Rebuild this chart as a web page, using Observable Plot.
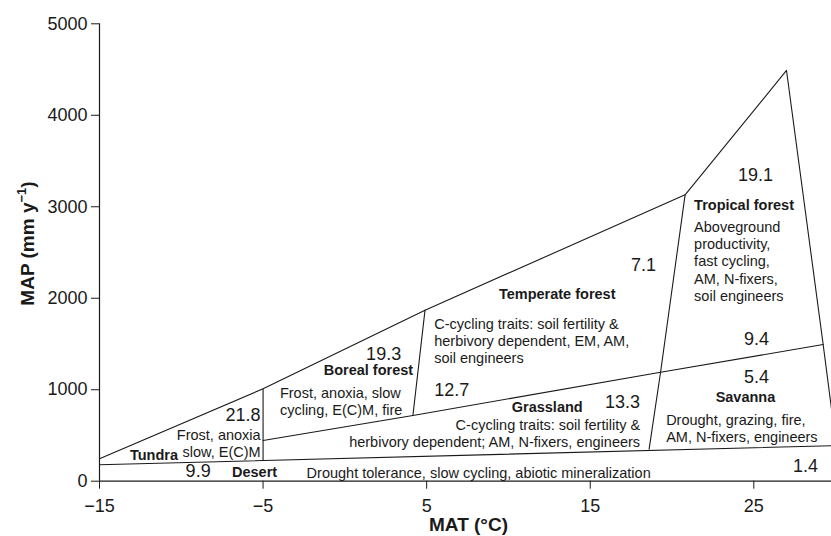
<!DOCTYPE html>
<html><head><meta charset="utf-8">
<script src="https://cdn.jsdelivr.net/npm/d3@7"></script>
<script src="https://cdn.jsdelivr.net/npm/@observablehq/plot@0.6"></script>
<style>body{margin:0;background:#fff;}</style>
</head><body><div id="chart"></div>
<script>
// Axis ticks
const xTicks = [-15, -5, 5, 15, 25];
const yTicks = [0, 1000, 2000, 3000, 4000, 5000];

// Biome boundary lines (MAT °C, MAP mm/yr)
const outerBoundary = [[-15, 245], [-5, 1010], [4.9, 1870], [20.8, 3130], [27.0, 4490], [29.24, 1494], [30.05, 379]];
const desertTop = [[-15, 179], [29.9, 389]];
const tundraBorealLine = [[-5, 226], [-5, 1010]];
const middleLine = [[-5, 445], [4.16, 718], [19.3, 1191], [29.24, 1494]];
const borealTemperateLine = [[4.16, 718], [4.9, 1870]];
const temperateTropicalLine = [[20.8, 3130], [19.3, 1191], [18.6, 350]];

// Biome values
const biomeValues = [
  {label: "19.1", x: 25.1, y: 3340, anchor: "middle"},
  {label: "7.1", x: 18.26, y: 2358, anchor: "middle"},
  {label: "12.7", x: 5.46, y: 999, anchor: "start"},
  {label: "9.4", x: 25.17, y: 1556, anchor: "middle"},
  {label: "5.4", x: 25.17, y: 1137, anchor: "middle"},
  {label: "1.4", x: 28.16, y: 164, anchor: "middle"},
  {label: "13.3", x: 16.98, y: 863, anchor: "middle"},
  {label: "9.9", x: -8.97, y: 109, anchor: "middle"},
  {label: "21.8", x: -5.15, y: 718, anchor: "end"},
  {label: "19.3", x: 2.37, y: 1392, anchor: "middle"}
];

// Biome names
const biomeNames = [
  {label: "Tropical forest", x: 21.35, y: 3020, anchor: "start"},
  {label: "Temperate forest", x: 12.98, y: 2041, anchor: "middle"},
  {label: "Savanna", x: 24.49, y: 918, anchor: "middle"},
  {label: "Grassland", x: 12.37, y: 809, anchor: "middle"},
  {label: "Desert", x: -5.52, y: 98, anchor: "middle"},
  {label: "Tundra", x: -11.67, y: 281, anchor: "middle"},
  {label: "Boreal forest", x: 1.44, y: 1210, anchor: "middle"}
];

// Biome traits
const biomeTraits = [
  {label: "Aboveground\nproductivity,\nfast cycling,\nAM, N-fixers,\nsoil engineers", x: 21.35, y: 2408, anchor: "start"},
  {label: "C-cycling traits: soil fertility &\nherbivory dependent, EM, AM,\nsoil engineers", x: 5.46, y: 1539, anchor: "start"},
  {label: "Drought, grazing, fire,\nAM, N-fixers, engineers", x: 19.64, y: 581, anchor: "start"},
  {label: "C-cycling traits: soil fertility &\nherbivory dependent; AM, N-fixers, engineers", x: 18.05, y: 530, anchor: "end"},
  {label: "Drought tolerance, slow cycling, abiotic mineralization", x: -2.34, y: 98, anchor: "start"},
  {label: "Frost, anoxia\nslow, E(C)M", x: -5.15, y: 421, anchor: "end"},
  {label: "Frost, anoxia, slow\ncycling, E(C)M, fire", x: -3.97, y: 877, anchor: "start"}
];

const xTitle = "MAT (°C)";
const yTitle = "MAP (mm y-1)";

const ink = "#1a1a1a";
const lineOpts = {x: d => d[0], y: d => d[1], stroke: ink, strokeWidth: 1.1, clip: true};

function textGroup(data, anchor, extra) {
  return Plot.text(data.filter(d => d.anchor === anchor), Object.assign({
    x: "x", y: "y", text: "label", textAnchor: anchor, lineAnchor: "middle", fill: ink
  }, extra));
}

const marks = [
  Plot.axisX({ticks: xTicks, tickSize: 8, tickPadding: 10, label: null,
    tickFormat: d => d < 0 ? "\u2212" + Math.abs(d) : String(d)}),
  Plot.axisY({ticks: yTicks, tickSize: 8, tickPadding: 4, label: null, tickFormat: d => String(d)}),
  Plot.ruleX([-15], {y1: 0, y2: 5000, stroke: ink, strokeWidth: 1.2}),
  Plot.ruleY([0], {stroke: ink, strokeWidth: 1.2}),
  Plot.line(outerBoundary, lineOpts),
  Plot.line(desertTop, lineOpts),
  Plot.line(tundraBorealLine, lineOpts),
  Plot.line(middleLine, lineOpts),
  Plot.line(borealTemperateLine, lineOpts),
  Plot.line(temperateTropicalLine, lineOpts)
];
for (const a of ["start", "middle", "end"]) {
  marks.push(textGroup(biomeValues, a, {fontSize: 18}));
  marks.push(textGroup(biomeNames, a, {fontSize: 14.5, fontWeight: "bold"}));
  marks.push(textGroup(biomeTraits, a, {fontSize: 14.5, lineHeight: 1.19}));
}
marks.push(Plot.text([xTitle], {frameAnchor: "bottom", lineAnchor: "middle", textAnchor: "middle",
  dx: 3, dy: 44, fontSize: 19, fontWeight: "bold", fill: ink}));
marks.push(Plot.text([yTitle], {frameAnchor: "left", lineAnchor: "middle", textAnchor: "middle",
  rotate: -90, dx: -72, dy: -9, fontSize: 19, fontWeight: "bold", fill: ink}));

const chart = Plot.plot({
  width: 831, height: 536,
  marginLeft: 99, marginRight: 0, marginTop: 23.3, marginBottom: 55.3,
  x: {domain: [-15, 29.75]},
  y: {domain: [0, 5000]},
  style: {fontFamily: "'Liberation Sans', Arial, Helvetica, sans-serif", fontSize: "18px", color: ink, background: "#fff"},
  marks
});

// superscript for the y title
chart.querySelectorAll("text").forEach(t => {
  if (t.textContent === yTitle) {
    t.textContent = "MAP (mm y";
    const sup = document.createElementNS("http://www.w3.org/2000/svg", "tspan");
    sup.setAttribute("dy", "-8");
    sup.setAttribute("font-size", "13");
    sup.textContent = "\u22121";
    const close = document.createElementNS("http://www.w3.org/2000/svg", "tspan");
    close.setAttribute("dy", "8");
    close.textContent = ")";
    t.appendChild(sup);
    t.appendChild(close);
  }
});
document.getElementById("chart").appendChild(chart);
</script>
</body></html>
